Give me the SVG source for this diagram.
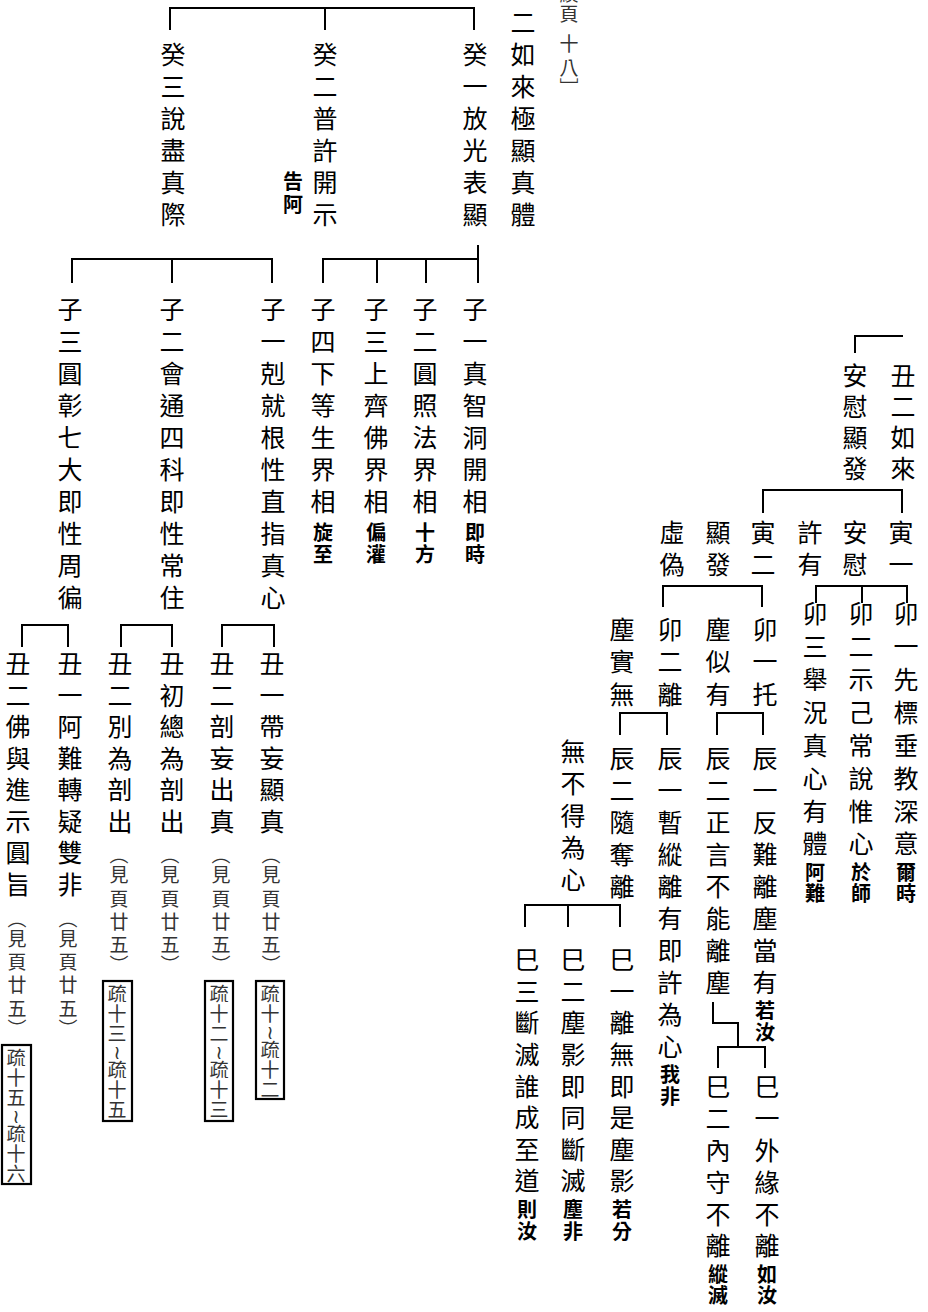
<svg xmlns="http://www.w3.org/2000/svg" width="928" height="1312" viewBox="0 0 928 1312">
<style>
text{font-family:"Noto Sans CJK TC","Noto Sans CJK SC","DejaVu Sans",sans-serif;text-anchor:middle;dominant-baseline:central}
.m{font-size:25px;fill:#000}
.b{font-size:20px;font-weight:700;fill:#000}
.s{font-size:19px;fill:#333}
.ln{fill:none;stroke:#000;stroke-width:2}
.box{fill:none;stroke:#000;stroke-width:2.2}
</style>
<rect width="928" height="1312" fill="#fff"/>
<g id="connectors" class="ln">
<path d="M170 30V8H474V30M325 8V30"/>
<path d="M478 245V283M323 283V259H478M377 259V283M426 259V283"/>
<path d="M72 283V259H272V283M172 259V283"/>
<path d="M22 647V625H68V647M121 647V625H172V647M222 647V625H274V647"/>
<path d="M855 353V336H903"/>
<path d="M763 513V490H902V513"/>
<path d="M816 603V586H907V603M862 586V603"/>
<path d="M663 607V586H762V607"/>
<path d="M717 735V713H763V735M620 735V713H667V735"/>
<path d="M713 1002V1023H738V1047M718 1068V1047H765V1068"/>
<path d="M525 927V905H620V927M568 905V927"/>
</g>
<g id="n_ref"><text class="s" x="569 569 569 569 569" y="-8 12 42 66 86">續頁十八﹈</text></g>
<g id="n_root"><text class="m" x="523 523 523 523 523 523 523" y="21 53 85 117 149 181 213">二如來極顯真體</text></g>
<g id="n_gui1"><text class="m" x="475 475 475 475 475 475" y="53 85 117 149 181 213">癸一放光表顯</text></g>
<g id="n_gui2"><text class="m" x="325 325 325 325 325 325" y="53 85 117 149 181 213">癸二普許開示</text><text class="b" x="293 293" y="180 203">告阿</text></g>
<g id="n_gui3"><text class="m" x="173 173 173 173 173 173" y="53 85 117 149 181 213">癸三說盡真際</text></g>

<g id="n_zi1a"><text class="m" x="475 475 475 475 475 475 475" y="308 340 372 404 436 468 500">子一真智洞開相</text><text class="b" x="475 475" y="531 553">即時</text></g>
<g id="n_zi2a"><text class="m" x="425 425 425 425 425 425 425" y="308 340 372 404 436 468 500">子二圓照法界相</text><text class="b" x="425 425" y="531 553">十方</text></g>
<g id="n_zi3a"><text class="m" x="376 376 376 376 376 376 376" y="308 340 372 404 436 468 500">子三上齊佛界相</text><text class="b" x="376 376" y="531 553">偏灌</text></g>
<g id="n_zi4a"><text class="m" x="323 323 323 323 323 323 323" y="308 340 372 404 436 468 500">子四下等生界相</text><text class="b" x="323 323" y="531 553">旋至</text></g>
<g id="n_zi1b"><text class="m" x="273 273 273 273 273 273 273 273 273 273" y="308 340 372 404 436 468 500 532 564 596">子一剋就根性直指真心</text></g>
<g id="n_zi2b"><text class="m" x="172 172 172 172 172 172 172 172 172 172" y="308 340 372 404 436 468 500 532 564 596">子二會通四科即性常住</text></g>
<g id="n_zi3b"><text class="m" x="70 70 70 70 70 70 70 70 70 70" y="308 340 372 404 436 468 500 532 564 596">子三圓彰七大即性周徧</text></g>

<g id="n_chou1a"><text class="m" x="272 272 272 272 272 272" y="662 694 725 757 788 820">丑一帶妄顯真</text><text class="s" x="271 271 271 271 271 271" y="853 873 897 920 943 963">︵見頁廿五︶</text><rect class="box" x="256" y="981" width="28" height="118"/><text class="s" x="270 270 270 270 270 270" y="992 1012 1030 1048 1068 1088">疏十≀疏十二</text></g>
<g id="n_chou2a"><text class="m" x="222 222 222 222 222 222" y="662 694 725 757 788 820">丑二剖妄出真</text><text class="s" x="221 221 221 221 221 221" y="853 873 897 920 943 963">︵見頁廿五︶</text><rect class="box" x="205" y="981" width="28" height="140"/><text class="s" x="219 219 219 219 219 219 219" y="992 1012 1032 1050 1068 1088 1108">疏十二≀疏十三</text></g>
<g id="n_chou0b"><text class="m" x="172 172 172 172 172 172" y="662 694 725 757 788 820">丑初總為剖出</text><text class="s" x="170 170 170 170 170 170" y="853 873 897 920 943 963">︵見頁廿五︶</text></g>
<g id="n_chou2b"><text class="m" x="120 120 120 120 120 120" y="662 694 725 757 788 820">丑二別為剖出</text><text class="s" x="119 119 119 119 119 119" y="853 873 897 920 943 963">︵見頁廿五︶</text><rect class="box" x="103" y="981" width="29" height="140"/><text class="s" x="117 117 117 117 117 117 117" y="992 1012 1032 1050 1068 1088 1108">疏十三≀疏十五</text></g>
<g id="n_chou1c"><text class="m" x="70 70 70 70 70 70 70 70" y="662 694 725 757 788 820 851 883">丑一阿難轉疑雙非</text><text class="s" x="68 68 68 68 68 68" y="917 937 960 983 1007 1027">︵見頁廿五︶</text></g>
<g id="n_chou2c"><text class="m" x="18 18 18 18 18 18 18 18" y="662 694 725 757 788 820 851 883">丑二佛與進示圓旨</text><text class="s" x="17 17 17 17 17 17" y="917 937 960 983 1007 1027">︵見頁廿五︶</text><rect class="box" x="2" y="1045" width="29" height="139"/><text class="s" x="16 16 16 16 16 16 16" y="1056 1076 1096 1114 1132 1152 1172">疏十五≀疏十六</text></g>

<g id="n_chou2r"><text class="m" x="903 903 903 903" y="374 405 436 467">丑二如來</text></g>
<g id="n_anwei"><text class="m" x="855 855 855 855" y="374 405 436 467">安慰顯發</text></g>
<g id="n_yin1"><text class="m" x="901 901" y="531 563">寅一</text></g>
<g id="n_anwei2"><text class="m" x="855 855" y="531 563">安慰</text></g>
<g id="n_xuyou"><text class="m" x="810 810" y="531 563">許有</text></g>
<g id="n_yin2"><text class="m" x="763 763" y="531 563">寅二</text></g>
<g id="n_xianfa"><text class="m" x="718 718" y="531 563">顯發</text></g>
<g id="n_xuwei"><text class="m" x="672 672" y="531 563">虛偽</text></g>

<g id="n_mao1"><text class="m" x="906 906 906 906 906 906 906 906" y="612 645 678 711 744 777 810 842">卯一先標垂教深意</text><text class="b" x="906 906" y="871 892">爾時</text></g>
<g id="n_mao2"><text class="m" x="861 861 861 861 861 861 861 861" y="612 645 678 711 744 777 810 842">卯二示己常說惟心</text><text class="b" x="861 861" y="871 892">於師</text></g>
<g id="n_mao3"><text class="m" x="815 815 815 815 815 815 815 815" y="612 645 678 711 744 777 810 842">卯三舉況真心有體</text><text class="b" x="815 815" y="871 892">阿難</text></g>
<g id="n_mao1b"><text class="m" x="765 765 765" y="628 660 693">卯一托</text></g>
<g id="n_chensi"><text class="m" x="718 718 718" y="628 660 693">塵似有</text></g>
<g id="n_mao2b"><text class="m" x="670 670 670" y="628 660 693">卯二離</text></g>
<g id="n_chenshi"><text class="m" x="622 622 622" y="628 660 693">塵實無</text></g>

<g id="n_chen1a"><text class="m" x="765 765 765 765 765 765 765 765" y="757 789 821 853 885 917 949 981">辰一反難離塵當有</text><text class="b" x="765 765" y="1009 1031">若汝</text></g>
<g id="n_chen2a"><text class="m" x="718 718 718 718 718 718 718 718" y="757 789 821 853 885 917 949 981">辰二正言不能離塵</text></g>
<g id="n_chen1b"><text class="m" x="670 670 670 670 670 670 670 670 670 670" y="757 789 821 853 885 917 949 981 1013 1045">辰一暫縱離有即許為心</text><text class="b" x="670 670" y="1073 1095">我非</text></g>
<g id="n_chen2b"><text class="m" x="622 622 622 622 622" y="757 789 821 853 885">辰二隨奪離</text></g>
<g id="n_wubude"><text class="m" x="573 573 573 573 573" y="750 782 814 846 878">無不得為心</text></g>

<g id="n_si1a"><text class="m" x="767 767 767 767 767 767" y="1085 1117 1149 1181 1213 1244">巳一外緣不離</text><text class="b" x="767 767" y="1273 1294">如汝</text></g>
<g id="n_si2a"><text class="m" x="718 718 718 718 718 718" y="1085 1117 1149 1181 1213 1244">巳二內守不離</text><text class="b" x="718 718" y="1273 1294">縱滅</text></g>
<g id="n_si1b"><text class="m" x="622 622 622 622 622 622 622 622" y="958 990 1021 1053 1085 1116 1148 1179">巳一離無即是塵影</text><text class="b" x="622 622" y="1208 1230">若分</text></g>
<g id="n_si2b"><text class="m" x="573 573 573 573 573 573 573 573" y="958 990 1021 1053 1085 1116 1148 1179">巳二塵影即同斷滅</text><text class="b" x="573 573" y="1208 1230">塵非</text></g>
<g id="n_si3b"><text class="m" x="527 527 527 527 527 527 527 527" y="958 990 1021 1053 1085 1116 1148 1179">巳三斷滅誰成至道</text><text class="b" x="527 527" y="1208 1230">則汝</text></g>
</svg>
